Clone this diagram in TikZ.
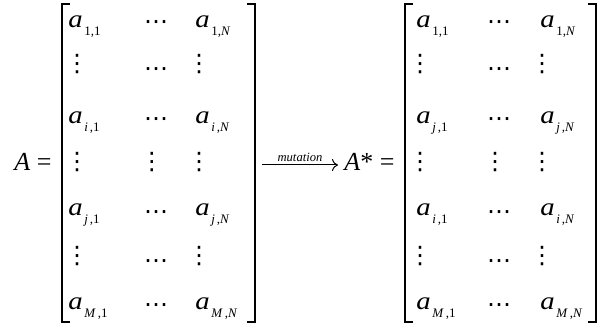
\documentclass[tikz,border=0pt]{standalone}
\usepackage{fontspec}
\setmainfont{Liberation Serif}
\newfontfamily\dotfont{DejaVu Sans}
\usepackage{graphicx}
\usetikzlibrary{arrows.meta,positioning,calc}
\newcommand{\ent}[1]{\scalebox{1.15}[1]{\textit{a}}\kern0.8pt\raisebox{-4pt}{\fontsize{6.5}{7}\selectfont #1}}
\tikzset{
  elem/.style={anchor=base west, inner sep=0pt, font=\fontsize{12.5}{15}\selectfont},
  dts/.style={anchor=center, inner sep=0pt, font=\dotfont\fontsize{12}{14}\selectfont},
  brk/.style={line width=0.7pt},
  lhs/.style={anchor=base west, inner sep=0pt, font=\fontsize{13}{15}\selectfont},
  mutarr/.style={-{To[length=3pt,width=6pt]}, line width=0.5pt},
  mutlbl/.style={font=\fontsize{6.3}{7}\selectfont\itshape, inner sep=1.5pt},
}
\begin{document}
\begin{tikzpicture}[x=0.5pt, y=-0.5pt]
  \useasboundingbox (0,0) rectangle (601,324);
  % A = [ ... ]
  \node[lhs] (A) at (14,171) {\textit{A} =};
  \draw[brk] (70,4) -- (62,4) -- (62,322) -- (70,322);
  \draw[brk] (247,4) -- (255,4) -- (255,322) -- (247,322);
  \node[elem] (l11) at (68,28) {\ent{1,1}};
  \node[elem] (l1N) at (195,28) {\ent{1,\textit{N}}};
  \node[elem] (li1) at (68,124) {\ent{\textit{i}\kern1pt,1}};
  \node[elem] (liN) at (195,124) {\ent{\textit{i}\kern1pt,\textit{N}}};
  \node[elem] (lj1) at (68,216) {\ent{\textit{j}\kern1pt,1}};
  \node[elem] (ljN) at (195,216) {\ent{\textit{j}\kern1pt,\textit{N}}};
  \node[elem] (lM1) at (68,310) {\ent{\textit{M}\kern1pt,1}};
  \node[elem] (lMN) at (195,310) {\ent{\textit{M}\kern1pt,\textit{N}}};
  \foreach \y in {25,122,215,308}
    \node[dts] (lc\y) at (156,\y) {⋯};
  \foreach \y/\c in {64/72,256/264} {
    \node[dts] (lva\y) at (77,\y) {⋮};
    \node[dts] (lcb\y) at (156,\c) {⋯};
    \node[dts] (lvc\y) at (199,\y) {⋮};
  }
  \node[dts] (lv1) at (77,162) {⋮};
  \node[dts] (lv2) at (152,162) {⋮};
  \node[dts] (lv3) at (199,162) {⋮};

  % mutation arrow
  \coordinate (mutS) at (262,165);
  \coordinate (mutE) at (338,165);
  \draw[mutarr] (mutS) -- node[mutlbl, above] (mutL) {mutation} (mutE);

  % A* = [ ... ]
  \node[lhs] (As) at (344,171) {\textit{A}* =};
  \draw[brk] (413,4) -- (405,4) -- (405,322) -- (413,322);
  \draw[brk] (588,4) -- (596,4) -- (596,322) -- (588,322);
  \node[elem] (r11) at (416,28) {\ent{1,1}};
  \node[elem] (r1N) at (540,28) {\ent{1,\textit{N}}};
  \node[elem] (rj1) at (416,124) {\ent{\textit{j}\kern1pt,1}};
  \node[elem] (rjN) at (540,124) {\ent{\textit{j}\kern1pt,\textit{N}}};
  \node[elem] (ri1) at (416,216) {\ent{\textit{i}\kern1pt,1}};
  \node[elem] (riN) at (540,216) {\ent{\textit{i}\kern1pt,\textit{N}}};
  \node[elem] (rM1) at (416,310) {\ent{\textit{M}\kern1pt,1}};
  \node[elem] (rMN) at (540,310) {\ent{\textit{M}\kern1pt,\textit{N}}};
  \foreach \y in {25,122,215,308}
    \node[dts] (rc\y) at (499,\y) {⋯};
  \foreach \y/\c in {64/72,256/264} {
    \node[dts] (rva\y) at (420,\y) {⋮};
    \node[dts] (rcb\y) at (499,\c) {⋯};
    \node[dts] (rvc\y) at (542,\y) {⋮};
  }
  \node[dts] (rv1) at (420,162) {⋮};
  \node[dts] (rv2) at (495,162) {⋮};
  \node[dts] (rv3) at (542,162) {⋮};
\end{tikzpicture}
\end{document}
